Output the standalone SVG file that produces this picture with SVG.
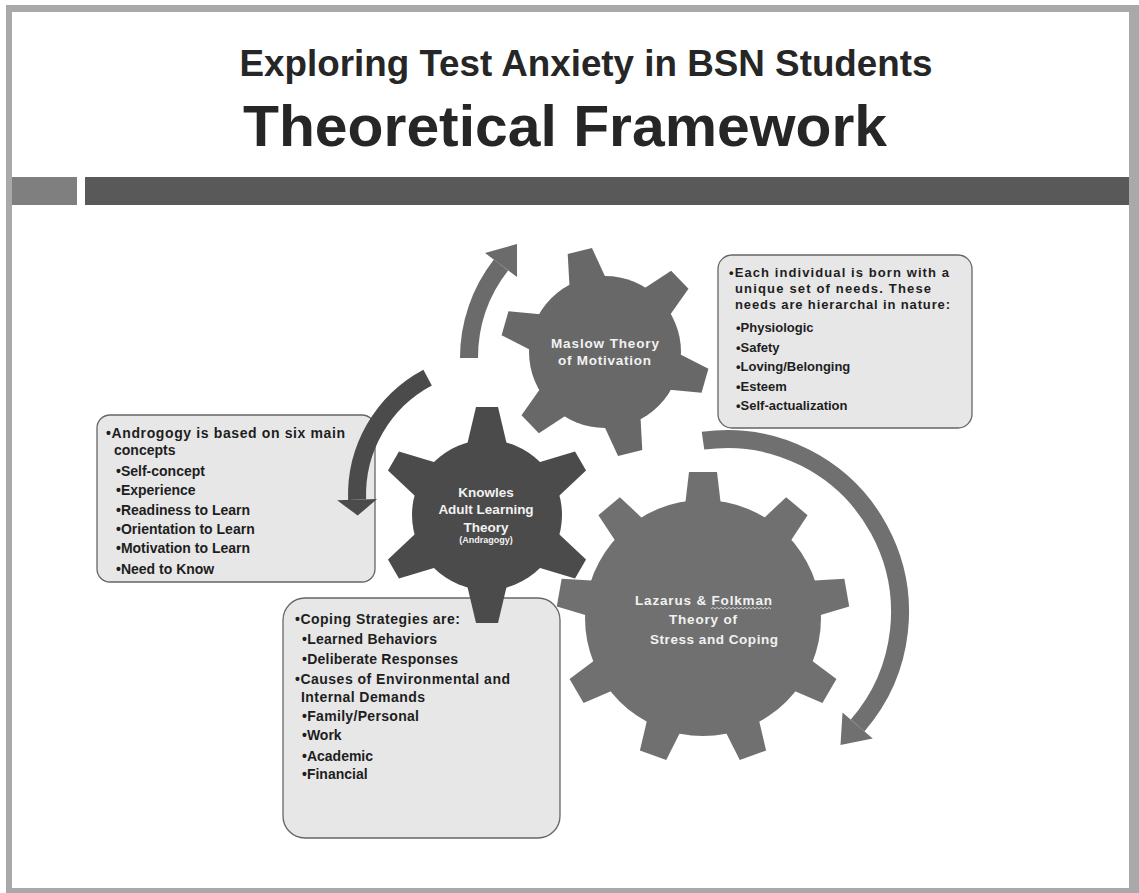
<svg xmlns="http://www.w3.org/2000/svg" xmlns:xlink="http://www.w3.org/1999/xlink" width="1139" height="893" viewBox="0 0 1139 893">
  <defs>
    <style>
      .title { font-family: "Liberation Sans", Arial, sans-serif; font-weight: bold; fill: #262626; text-anchor: middle; }
      .gm { fill: #686868; }
      .gk { fill: #4b4b4b; }
      .gl { fill: #707070; }
      .glabel { font-family: "Liberation Sans", Arial, sans-serif; font-weight: bold; font-size: 13.5px; fill: #f2f2f2; }
      .small { font-size: 9px; }
      .note { fill: #e7e7e7; stroke: #666666; stroke-width: 1.3; }
      .nt { font-family: "Liberation Sans", Arial, sans-serif; font-weight: bold; fill: #1e1e1e; }
      .s12 { font-size: 13px; }
      .s13 { font-size: 14px; }
      .arc { fill: none; stroke-width: 18; stroke-linecap: butt; }
    </style>
    <!-- gear teeth, drawn pointing up from the gear centre -->
    <polygon id="tM" points="-19,-70 -12.5,-104 12.5,-104 19,-70"/>
    <polygon id="tK" points="-20,-70 -11,-108 11,-108 20,-70"/>
    <polygon id="tL" points="-18,-112 -14,-146 14,-146 18,-112"/>
  </defs>

  <!-- slide frame -->
  <rect x="0" y="0" width="1139" height="893" fill="#ffffff"/>
  <rect x="6" y="5" width="1133" height="888" fill="#a9a9a9"/>
  <rect x="12" y="12" width="1117" height="876" fill="#ffffff"/>

  <!-- heading -->
  <text class="title" x="586" y="76" font-size="37" textLength="693" lengthAdjust="spacingAndGlyphs">Exploring Test Anxiety in BSN Students</text>
  <text class="title" x="565" y="146" font-size="58" textLength="644" lengthAdjust="spacingAndGlyphs">Theoretical Framework</text>
  <rect x="12" y="177" width="65" height="28" fill="#7f7f7f"/>
  <rect x="85" y="177" width="1044" height="28" fill="#595959"/>

  <!-- Lazarus & Folkman gear -->
  <g id="node-lazarus">
    <g class="gl" transform="translate(703 618)">
      <circle r="118"/>
      <use xlink:href="#tL"/>
      <use xlink:href="#tL" transform="rotate(40)"/>
      <use xlink:href="#tL" transform="rotate(80)"/>
      <use xlink:href="#tL" transform="rotate(120)"/>
      <use xlink:href="#tL" transform="rotate(160)"/>
      <use xlink:href="#tL" transform="rotate(200)"/>
      <use xlink:href="#tL" transform="rotate(240)"/>
      <use xlink:href="#tL" transform="rotate(280)"/>
      <use xlink:href="#tL" transform="rotate(320)"/>
    </g>
    <text class="glabel" x="635" y="605" textLength="137">Lazarus &amp; Folkman</text>
    <path d="M711 609 l2 -1.6 l2 1.6 l2 -1.6 l2 1.6 l2 -1.6 l2 1.6 l2 -1.6 l2 1.6 l2 -1.6 l2 1.6 l2 -1.6 l2 1.6 l2 -1.6 l2 1.6 l2 -1.6 l2 1.6 l2 -1.6 l2 1.6 l2 -1.6 l2 1.6 l2 -1.6 l2 1.6 l2 -1.6 l2 1.6 l2 -1.6 l2 1.6 l2 -1.6 l2 1.6 l2 -1.6 l2 1.6" fill="none" stroke="#d4d4d4" stroke-width="0.9"/>
    <text class="glabel" x="669" y="624" textLength="68">Theory of</text>
    <text class="glabel" x="650" y="644" textLength="128">Stress and Coping</text>
  </g>

  <!-- coping note (sits over the Lazarus gear, under the Knowles gear) -->
  <g id="note-coping">
    <rect class="note" x="283" y="598" width="277" height="240" rx="22"/>
    <text class="nt s13" x="295" y="624" textLength="165">•Coping Strategies are:</text>
    <text class="nt s13" x="302" y="644" textLength="135">•Learned Behaviors</text>
    <text class="nt s13" x="302" y="664" textLength="156">•Deliberate Responses</text>
    <text class="nt s13" x="295" y="684" textLength="215">•Causes of Environmental and</text>
    <text class="nt s13" x="301" y="702" textLength="124">Internal Demands</text>
    <text class="nt s13" x="302" y="721" textLength="117">•Family/Personal</text>
    <text class="nt s13" x="302" y="740">•Work</text>
    <text class="nt s13" x="302" y="761">•Academic</text>
    <text class="nt s13" x="302" y="779">•Financial</text>
  </g>

  <!-- Maslow gear -->
  <g id="node-maslow">
    <g class="gm" transform="translate(605 352)">
      <circle r="76"/>
      <use xlink:href="#tM" transform="rotate(-14)"/>
      <use xlink:href="#tM" transform="rotate(46)"/>
      <use xlink:href="#tM" transform="rotate(106)"/>
      <use xlink:href="#tM" transform="rotate(166)"/>
      <use xlink:href="#tM" transform="rotate(226)"/>
      <use xlink:href="#tM" transform="rotate(286)"/>
    </g>
    <text class="glabel" x="551" y="348" textLength="108">Maslow Theory</text>
    <text class="glabel" x="558" y="365" textLength="93">of Motivation</text>
  </g>

  <!-- Knowles gear -->
  <g id="node-knowles">
    <g class="gk" transform="translate(487 515)">
      <circle r="75"/>
      <use xlink:href="#tK"/>
      <use xlink:href="#tK" transform="rotate(60)"/>
      <use xlink:href="#tK" transform="rotate(120)"/>
      <use xlink:href="#tK" transform="rotate(180)"/>
      <use xlink:href="#tK" transform="rotate(240)"/>
      <use xlink:href="#tK" transform="rotate(300)"/>
    </g>
    <text class="glabel" x="486" y="497" text-anchor="middle">Knowles</text>
    <text class="glabel" x="486" y="514" text-anchor="middle">Adult Learning</text>
    <text class="glabel" x="486" y="532" text-anchor="middle">Theory</text>
    <text class="glabel small" x="486" y="543" text-anchor="middle">(Andragogy)</text>
  </g>

  <!-- Maslow note -->
  <g id="note-maslow">
    <rect class="note" x="718" y="255" width="254" height="173" rx="14"/>
    <text class="nt s12" x="729" y="277" textLength="220">•Each individual  is born with a</text>
    <text class="nt s12" x="735" y="293" textLength="196">unique set of needs.  These</text>
    <text class="nt s12" x="735" y="309" textLength="215">needs are hierarchal  in nature:</text>
    <text class="nt s12" x="736" y="332">•Physiologic</text>
    <text class="nt s12" x="736" y="352">•Safety</text>
    <text class="nt s12" x="736" y="371">•Loving/Belonging</text>
    <text class="nt s12" x="736" y="391">•Esteem</text>
    <text class="nt s12" x="736" y="410">•Self-actualization</text>
  </g>

  <!-- Knowles note -->
  <g id="note-knowles">
    <rect class="note" x="97" y="415" width="278" height="167" rx="13"/>
    <text class="nt s13" x="106" y="438" textLength="239">•Androgogy  is based on six main</text>
    <text class="nt s13" x="114" y="455">concepts</text>
    <text class="nt s13" x="116" y="476">•Self-concept</text>
    <text class="nt s13" x="116" y="495">•Experience</text>
    <text class="nt s13" x="116" y="515">•Readiness to Learn</text>
    <text class="nt s13" x="116" y="534">•Orientation to Learn</text>
    <text class="nt s13" x="116" y="553">•Motivation to Learn</text>
    <text class="nt s13" x="116" y="574">•Need to Know</text>
  </g>

  <!-- curved cycle arrows -->
  <g id="connectors">
    <path class="arc" stroke="#6b6b6b" d="M469 358 A151 151 0 0 1 501 265"/>
    <polygon fill="#6b6b6b" points="485,253 517,244 517,277"/>

    <path class="arc" stroke="#4b4b4b" stroke-width="19" d="M427.6 377.6 A133 133 0 0 0 357.1 499.6"/>
    <polygon fill="#4b4b4b" points="337.1,500.3 377.1,498.9 357.7,515.6"/>

    <path class="arc" stroke="#707070" d="M703 440.7 A173 173 0 0 1 857.6 725.5"/>
    <polygon fill="#707070" points="872.7,738.6 842.5,712.4 840.5,745.1"/>
  </g>
</svg>
